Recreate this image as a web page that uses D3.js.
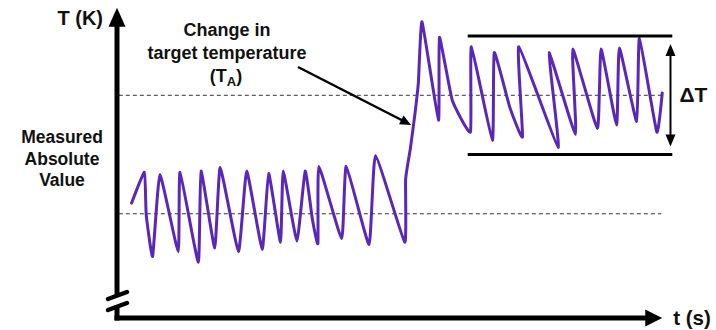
<!DOCTYPE html>
<html>
<head>
<meta charset="utf-8">
<script src="https://cdn.jsdelivr.net/npm/d3@7"></script>
<style>
  body { margin: 0; background: #fff; }
  text { font-family: "Liberation Sans", Arial, sans-serif; font-weight: bold; fill: #111; }
</style>
</head>
<body>
<div id="chart"></div>
<script>
// measured signal (time in s, temperature in K)
var time = [1.6, 3.0, 3.2, 3.9, 4.7, 6.7, 6.9, 8.9, 9.2, 10.7, 11.3, 13.3, 14.2, 15.9, 16.6,
            17.9, 18.2, 19.7, 20.6, 21.4, 22.0, 22.1, 24.6, 25.1, 27.6, 28.3, 31.5, 31.6, 32.1,
            32.6, 33.0, 33.4, 35.2, 35.3, 36.7, 38.7, 38.8, 41.1, 41.3, 43.0, 44.4, 44.0, 48.3,
            47.3, 50.2, 49.9, 52.6, 53.0, 54.7, 55.0, 56.9, 57.2, 59.1, 59.7];
var temp = [300.9, 303.5, 299.9, 296.4, 303.3, 296.8, 303.5, 295.9, 303.6, 297.1, 303.9, 296.8, 303.6, 297.0, 303.4,
            297.6, 303.6, 297.7, 303.6, 299.5, 297.5, 304.0, 297.9, 304.0, 297.4, 304.9, 297.6, 302.9, 305.4,
            308.3, 311.1, 316.2, 307.9, 314.9, 309.6, 306.9, 314.1, 306.2, 313.6, 309.0, 306.5, 314.1, 305.6,
            313.6, 306.7, 313.9, 307.2, 313.9, 307.5, 314.0, 307.8, 314.8, 306.9, 310.2];

// reference levels: before / after the change in target temperature
var levels = [300, 310];
// Delta T band after the step
var band = [305, 315];
var bandTime = [38.4, 60.8];

var yTitle = "T (K)";
var xTitle = "t (s)";
var sideLabel = ["Measured", "Absolute", "Value"];
var noteLabel = ["Change in", "target temperature"];

var W = 716, H = 330;
var purple = "#5b27b9";

var x = d3.scaleLinear().domain([0, 60]).range([117, 665]);
var y = d3.scaleLinear().domain([291.2, 317.2]).range([318, 10]);

var svg = d3.select("#chart").append("svg")
    .attr("width", W).attr("height", H);

// dashed reference lines
svg.selectAll("line.level").data(levels).enter().append("line")
    .attr("class", "level")
    .attr("x1", x(0.2)).attr("x2", function(d, i){ return i ? x(59.9) : x(59.6); })
    .attr("y1", function(d){ return y(d); }).attr("y2", function(d){ return y(d); })
    .attr("stroke", "#333").attr("stroke-width", 1)
    .attr("stroke-dasharray", "4,3");

// signal
var line = d3.line()
    .x(function(d){ return x(d[0]); })
    .y(function(d){ return y(d[1]); })
    .curve(d3.curveCardinal.tension(0.6));
var pts = time.map(function(t, i){ return [t, temp[i]]; });
svg.append("path").datum(pts)
    .attr("d", line)
    .attr("fill", "none")
    .attr("stroke", purple)
    .attr("stroke-width", 3)
    .attr("stroke-linejoin", "round")
    .attr("stroke-linecap", "round");

// delta T band
svg.selectAll("line.band").data(band).enter().append("line")
    .attr("class", "band")
    .attr("x1", x(bandTime[0])).attr("x2", x(bandTime[1]))
    .attr("y1", function(d){ return y(d); }).attr("y2", function(d){ return y(d); })
    .attr("stroke", "#000").attr("stroke-width", 3);

var ax = x(60.6);
svg.append("line")
    .attr("x1", ax).attr("x2", ax)
    .attr("y1", y(band[1]) + 14).attr("y2", y(band[0]) - 14)
    .attr("stroke", "#000").attr("stroke-width", 2);
svg.append("path")
    .attr("d", "M" + ax + "," + (y(band[1]) + 8) + "l-5,12h10z")
    .attr("fill", "#000");
svg.append("path")
    .attr("d", "M" + ax + "," + (y(band[0]) - 8) + "l-5,-12h10z")
    .attr("fill", "#000");
svg.append("text")
    .attr("x", ax + 9).attr("y", y(d3.mean(band)) + 7)
    .style("font-size", "21px")
    .text("\u0394T");

// axes
var x0 = x(0), y0 = y(291.2);
var yTop = y(317.4), xEnd = x(59.7);
// y axis, with a break near the bottom
svg.append("line").attr("x1", x0).attr("x2", x0)
    .attr("y1", yTop + 14).attr("y2", 295)
    .attr("stroke", "#000").attr("stroke-width", 5);
svg.append("line").attr("x1", x0).attr("x2", x0)
    .attr("y1", 305).attr("y2", y0 + 2.5)
    .attr("stroke", "#000").attr("stroke-width", 5);
svg.append("path")
    .attr("d", "M" + x0 + "," + yTop + "l-8.5,19h17z")
    .attr("fill", "#000");
[[299, 292], [310, 303]].forEach(function(b){
    svg.append("line")
        .attr("x1", x0 - 9).attr("y1", b[0])
        .attr("x2", x0 + 10).attr("y2", b[1])
        .attr("stroke", "#000").attr("stroke-width", 4.5)
        .attr("stroke-linecap", "round");
});
// x axis
svg.append("line").attr("x1", x0 - 2.5).attr("x2", xEnd - 12)
    .attr("y1", y0).attr("y2", y0)
    .attr("stroke", "#000").attr("stroke-width", 5);
svg.append("path")
    .attr("d", "M" + xEnd + "," + y0 + "l-17,-8.5v17z")
    .attr("fill", "#000");

// axis titles
svg.append("text")
    .attr("x", x0 - 14).attr("y", 25)
    .attr("text-anchor", "end")
    .style("font-size", "20px")
    .text(yTitle);
svg.append("text")
    .attr("x", xEnd + 11).attr("y", y0 + 7)
    .style("font-size", "20.5px")
    .text(xTitle);

// side label
svg.selectAll("text.side").data(sideLabel).enter().append("text")
    .attr("class", "side")
    .attr("x", 62).attr("y", function(d, i){ return 143 + i * 21.5; })
    .attr("text-anchor", "middle")
    .style("font-size", "17.5px")
    .text(function(d){ return d; });

// annotation
svg.selectAll("text.note").data(noteLabel).enter().append("text")
    .attr("class", "note")
    .attr("x", 227).attr("y", function(d, i){ return 36 + i * 23; })
    .attr("text-anchor", "middle")
    .style("font-size", "18px")
    .text(function(d){ return d; });
var ta = svg.append("text")
    .attr("x", 226).attr("y", 82)
    .attr("text-anchor", "middle")
    .style("font-size", "18px");
ta.append("tspan").text("(T");
ta.append("tspan").attr("dy", 4).style("font-size", "13px").text("A");
ta.append("tspan").attr("dy", -4).text(")");

var a0 = [298, 67], a1 = [x(32.2), y(307.5)];
var ang = Math.atan2(a1[1] - a0[1], a1[0] - a0[0]);
svg.append("line")
    .attr("x1", a0[0]).attr("y1", a0[1])
    .attr("x2", a1[0] - 8 * Math.cos(ang)).attr("y2", a1[1] - 8 * Math.sin(ang))
    .attr("stroke", "#000").attr("stroke-width", 2.5);
svg.append("path")
    .attr("d", "M0,0L-11,-5L-11,5Z")
    .attr("transform", "translate(" + a1[0] + "," + a1[1] + ") rotate(" + (ang * 180 / Math.PI) + ")")
    .attr("fill", "#000");
</script>
</body>
</html>
